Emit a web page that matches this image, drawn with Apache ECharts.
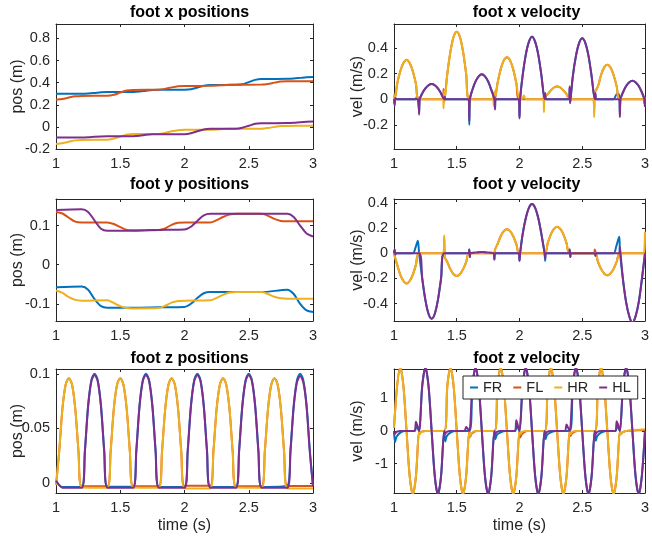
<!DOCTYPE html>
<html>
<head>
<meta charset="utf-8">
<script src="https://cdn.jsdelivr.net/npm/echarts@6/dist/echarts.min.js"></script>
<style>
html, body { margin: 0; padding: 0; background: #fff; }
#main { width: 652px; height: 538px; }
</style>
</head>
<body>
<div id="main"></div>
<script>
// legs and the time axis
var names = ['FR', 'FL', 'HR', 'HL'];
var xTicks = [1, 1.5, 2, 2.5, 3];

// y tick labels per panel
var xposTicks = [-0.2, 0, 0.2, 0.4, 0.6, 0.8];
var xvelTicks = [-0.2, 0, 0.2, 0.4];
var yposTicks = [-0.1, 0, 0.1];
var yvelTicks = [-0.4, -0.2, 0, 0.2, 0.4];
var zposTicks = [0, 0.05, 0.1];
var zvelTicks = [-1, 0, 1];

// foot x positions [t, m]
var xposFR = [[1.0,0.300],[1.2,0.300],[1.25,0.302],[1.3,0.307],[1.35,0.313],[1.4,0.315],[1.6,0.316],[1.65,0.319],[1.7,0.327],[1.75,0.334],[1.8,0.336],[2.0,0.336],[2.05,0.34],[2.1,0.355],[2.15,0.372],[2.2,0.378],[2.4,0.38],[2.45,0.385],[2.5,0.405],[2.55,0.425],[2.6,0.432],[2.8,0.434],[2.85,0.437],[2.9,0.443],[2.95,0.449],[3.0,0.451]];
var xposFL = [[1.0,0.245],[1.05,0.252],[1.1,0.265],[1.15,0.276],[1.2,0.280],[1.4,0.281],[1.45,0.29],[1.5,0.31],[1.55,0.328],[1.6,0.334],[1.8,0.336],[1.85,0.344],[1.9,0.357],[1.95,0.367],[2.0,0.370],[2.2,0.371],[2.25,0.373],[2.3,0.377],[2.35,0.38],[2.4,0.381],[2.6,0.382],[2.65,0.388],[2.7,0.40],[2.75,0.41],[2.8,0.412],[3.0,0.412]];
var xposHR = [[1.0,-0.155],[1.05,-0.148],[1.1,-0.135],[1.15,-0.122],[1.2,-0.118],[1.4,-0.117],[1.45,-0.105],[1.5,-0.088],[1.55,-0.07],[1.6,-0.064],[1.8,-0.063],[1.85,-0.055],[1.9,-0.04],[1.95,-0.03],[2.0,-0.027],[2.2,-0.026],[2.25,-0.024],[2.3,-0.02],[2.35,-0.017],[2.4,-0.016],[2.6,-0.016],[2.65,-0.01],[2.7,0.0],[2.75,0.008],[2.8,0.009],[3.0,0.01]];
var xposHL = [[1.0,-0.095],[1.2,-0.095],[1.25,-0.093],[1.3,-0.089],[1.35,-0.086],[1.4,-0.085],[1.6,-0.084],[1.65,-0.08],[1.7,-0.072],[1.75,-0.067],[1.8,-0.066],[2.0,-0.066],[2.05,-0.058],[2.1,-0.04],[2.15,-0.023],[2.2,-0.018],[2.4,-0.017],[2.45,-0.008],[2.5,0.01],[2.55,0.028],[2.6,0.032],[2.8,0.034],[2.85,0.037],[2.9,0.042],[2.95,0.046],[3.0,0.048]];

// foot x velocity [t, m/s]
var xvelFR = [[1.0,0],[1.005,-0.04],[1.01,0.01],[1.02,0],[1.17,0],[1.185,0.025],[1.19,0],[1.195,0],[1.2,-0.1],[1.205,0],[1.225,0.046],[1.25,0.085],[1.275,0.11],[1.3,0.12],[1.325,0.11],[1.35,0.085],[1.375,0.046],[1.4,0],[1.405,0.02],[1.41,0],[1.595,0],[1.6,-0.2],[1.605,0],[1.625,0.075],[1.65,0.14],[1.675,0.18],[1.7,0.196],[1.725,0.18],[1.75,0.14],[1.775,0.075],[1.8,0],[1.805,-0.07],[1.81,0],[1.995,0],[2.0,-0.14],[2.005,0],[2.025,0.186],[2.05,0.348],[2.075,0.45],[2.1,0.49],[2.125,0.45],[2.15,0.348],[2.175,0.186],[2.2,0],[2.205,0.04],[2.21,0],[2.395,0],[2.4,0.09],[2.403,-0.03],[2.407,0],[2.425,0.18],[2.45,0.34],[2.475,0.44],[2.5,0.478],[2.525,0.44],[2.55,0.34],[2.575,0.18],[2.6,0],[2.605,0.04],[2.61,0],[2.75,0],[2.775,0.04],[2.795,0.04],[2.8,-0.12],[2.805,0],[2.825,0.055],[2.85,0.104],[2.875,0.134],[2.9,0.146],[2.925,0.134],[2.95,0.104],[2.975,0.055],[2.995,0],[3.0,-0.05]];
var xvelFL = [[1.0,-0.03],[1.005,0.03],[1.01,0.02],[1.025,0.12],[1.05,0.22],[1.075,0.285],[1.1,0.31],[1.125,0.285],[1.15,0.22],[1.175,0.12],[1.2,0],[1.39,0],[1.395,0.08],[1.4,-0.02],[1.405,0.01],[1.425,0.2],[1.45,0.375],[1.475,0.49],[1.5,0.53],[1.525,0.49],[1.55,0.375],[1.575,0.2],[1.6,0],[1.79,0],[1.795,0.05],[1.8,-0.03],[1.81,0.03],[1.825,0.125],[1.85,0.235],[1.875,0.305],[1.9,0.33],[1.925,0.305],[1.95,0.235],[1.975,0.125],[2.0,0],[2.19,0],[2.195,0.04],[2.2,0.02],[2.225,0.04],[2.25,0.07],[2.275,0.092],[2.3,0.1],[2.325,0.092],[2.35,0.07],[2.375,0.04],[2.4,0],[2.59,0],[2.595,-0.1],[2.6,0.05],[2.625,0.1],[2.65,0.19],[2.675,0.25],[2.7,0.27],[2.725,0.25],[2.75,0.19],[2.775,0.1],[2.8,0],[2.99,0],[2.995,-0.03],[3.0,0.02]];
var xvelHR = [[1.0,0.04],[1.005,-0.04],[1.01,0.02],[1.025,0.12],[1.05,0.22],[1.075,0.285],[1.1,0.31],[1.125,0.285],[1.15,0.22],[1.175,0.12],[1.2,0],[1.39,0],[1.395,-0.07],[1.4,0.07],[1.405,0.01],[1.425,0.2],[1.45,0.375],[1.475,0.49],[1.5,0.53],[1.525,0.49],[1.55,0.375],[1.575,0.2],[1.6,0],[1.79,0],[1.795,-0.05],[1.8,0.06],[1.81,0.03],[1.825,0.125],[1.85,0.235],[1.875,0.305],[1.9,0.33],[1.925,0.305],[1.95,0.235],[1.975,0.125],[2.0,0],[2.02,0],[2.035,0.03],[2.05,0],[2.19,0],[2.195,-0.1],[2.2,0.02],[2.225,0.04],[2.25,0.07],[2.275,0.092],[2.3,0.1],[2.325,0.092],[2.35,0.07],[2.375,0.04],[2.4,0],[2.59,0],[2.595,-0.14],[2.6,0.05],[2.625,0.1],[2.65,0.19],[2.675,0.25],[2.7,0.27],[2.725,0.25],[2.75,0.19],[2.775,0.1],[2.8,0],[3.0,0]];
var xvelHL = [[1.0,0],[1.005,-0.05],[1.01,0.01],[1.02,0],[1.195,0],[1.2,-0.12],[1.205,0],[1.225,0.046],[1.25,0.085],[1.275,0.11],[1.3,0.12],[1.325,0.11],[1.35,0.085],[1.375,0.046],[1.4,0],[1.405,0.02],[1.41,0],[1.595,0],[1.6,-0.17],[1.605,0],[1.625,0.075],[1.65,0.14],[1.675,0.18],[1.7,0.196],[1.725,0.18],[1.75,0.14],[1.775,0.075],[1.8,0],[1.805,-0.08],[1.81,0],[1.995,0],[2.0,-0.15],[2.005,0],[2.025,0.186],[2.05,0.348],[2.075,0.45],[2.1,0.49],[2.125,0.45],[2.15,0.348],[2.175,0.186],[2.2,0],[2.205,0.05],[2.21,0],[2.395,0],[2.4,0.1],[2.403,-0.03],[2.407,0],[2.425,0.18],[2.45,0.34],[2.475,0.44],[2.5,0.478],[2.525,0.44],[2.55,0.34],[2.575,0.18],[2.6,0],[2.605,0.05],[2.61,0],[2.795,0],[2.8,-0.14],[2.805,0],[2.825,0.055],[2.85,0.104],[2.875,0.134],[2.9,0.146],[2.925,0.134],[2.95,0.104],[2.975,0.055],[2.995,0],[3.0,-0.06]];

// foot y positions [t, m]
var yposFR = [[1.0,-0.058],[1.2,-0.056],[1.25,-0.064],[1.3,-0.088],[1.35,-0.106],[1.4,-0.110],[1.6,-0.110],[1.8,-0.109],[2.0,-0.108],[2.05,-0.1],[2.1,-0.085],[2.15,-0.073],[2.2,-0.07],[2.6,-0.07],[2.8,-0.064],[2.85,-0.075],[2.9,-0.1],[2.95,-0.117],[3.0,-0.121]];
var yposFL = [[1.0,0.135],[1.05,0.131],[1.1,0.12],[1.15,0.11],[1.2,0.108],[1.4,0.108],[1.45,0.104],[1.5,0.096],[1.55,0.089],[1.6,0.088],[1.8,0.089],[1.85,0.093],[1.9,0.102],[1.95,0.107],[2.0,0.108],[2.2,0.108],[2.25,0.114],[2.3,0.122],[2.35,0.128],[2.4,0.13],[2.6,0.13],[2.65,0.125],[2.7,0.117],[2.75,0.112],[2.8,0.111],[3.0,0.111]];
var yposHR = [[1.0,-0.066],[1.05,-0.072],[1.1,-0.083],[1.15,-0.09],[1.2,-0.092],[1.4,-0.091],[1.45,-0.098],[1.5,-0.106],[1.55,-0.111],[1.6,-0.112],[1.8,-0.111],[1.85,-0.105],[1.9,-0.097],[1.95,-0.093],[2.0,-0.092],[2.2,-0.091],[2.25,-0.085],[2.3,-0.077],[2.35,-0.071],[2.4,-0.07],[2.6,-0.07],[2.65,-0.075],[2.7,-0.082],[2.75,-0.086],[2.8,-0.087],[3.0,-0.087]];
var yposHL = [[1.0,0.14],[1.2,0.142],[1.25,0.135],[1.3,0.113],[1.35,0.092],[1.4,0.087],[1.6,0.087],[1.7,0.088],[1.8,0.089],[2.0,0.09],[2.05,0.097],[2.1,0.112],[2.15,0.126],[2.2,0.13],[2.8,0.13],[2.85,0.122],[2.9,0.1],[2.95,0.08],[3.0,0.072]];

// foot y velocity [t, m/s]
var yvelFR = [[1.0,0],[1.005,0.03],[1.01,0],[1.15,0],[1.17,0.04],[1.19,0.1],[1.2,0],[1.225,-0.2],[1.25,-0.37],[1.275,-0.48],[1.3,-0.52],[1.325,-0.48],[1.35,-0.37],[1.375,-0.2],[1.4,0],[1.595,0],[1.6,0.03],[1.605,-0.03],[1.61,0],[1.65,0.005],[1.7,0.01],[1.75,0.005],[1.795,0],[1.8,-0.05],[1.805,0],[1.995,0],[2.0,-0.06],[2.005,0],[2.025,0.15],[2.05,0.277],[2.075,0.36],[2.1,0.39],[2.125,0.36],[2.15,0.277],[2.175,0.15],[2.2,0],[2.205,-0.06],[2.21,0],[2.395,0],[2.4,0.03],[2.405,-0.03],[2.41,0],[2.6,0],[2.605,-0.02],[2.61,0],[2.75,0],[2.77,0.05],[2.795,0.13],[2.8,0.02],[2.825,-0.21],[2.85,-0.39],[2.875,-0.5],[2.9,-0.55],[2.925,-0.5],[2.95,-0.39],[2.975,-0.21],[3.0,0]];
var yvelFL = [[1.0,0.01],[1.005,-0.02],[1.025,-0.09],[1.05,-0.17],[1.075,-0.22],[1.1,-0.24],[1.125,-0.22],[1.15,-0.17],[1.175,-0.09],[1.2,0],[1.395,0],[1.4,0.12],[1.405,-0.03],[1.425,-0.07],[1.45,-0.128],[1.475,-0.166],[1.5,-0.18],[1.525,-0.166],[1.55,-0.128],[1.575,-0.07],[1.6,0],[1.8,0],[1.805,0.03],[1.825,0.072],[1.85,0.135],[1.875,0.175],[1.9,0.19],[1.925,0.175],[1.95,0.135],[1.975,0.072],[2.0,0],[2.2,0],[2.225,0.08],[2.25,0.15],[2.275,0.193],[2.3,0.21],[2.325,0.193],[2.35,0.15],[2.375,0.08],[2.4,0],[2.595,0],[2.6,0.03],[2.625,-0.066],[2.65,-0.124],[2.675,-0.16],[2.7,-0.175],[2.725,-0.16],[2.75,-0.124],[2.775,-0.066],[2.8,0],[2.995,0],[3.0,0.15]];
var yvelHR = [[1.0,0.01],[1.005,-0.02],[1.025,-0.09],[1.05,-0.17],[1.075,-0.22],[1.1,-0.24],[1.125,-0.22],[1.15,-0.17],[1.175,-0.09],[1.2,0],[1.395,0],[1.4,0.14],[1.405,-0.03],[1.425,-0.07],[1.45,-0.128],[1.475,-0.166],[1.5,-0.18],[1.525,-0.166],[1.55,-0.128],[1.575,-0.07],[1.6,0],[1.8,0],[1.805,0.03],[1.825,0.072],[1.85,0.135],[1.875,0.175],[1.9,0.19],[1.925,0.175],[1.95,0.135],[1.975,0.072],[2.0,0],[2.2,0],[2.225,0.08],[2.25,0.15],[2.275,0.193],[2.3,0.21],[2.325,0.193],[2.35,0.15],[2.375,0.08],[2.4,0],[2.6,0],[2.625,-0.066],[2.65,-0.124],[2.675,-0.16],[2.7,-0.175],[2.725,-0.16],[2.75,-0.124],[2.775,-0.066],[2.8,0],[2.995,0],[3.0,0.17]];
var yvelHL = [[1.0,0],[1.005,0.03],[1.01,-0.01],[1.02,0],[1.2,0],[1.225,-0.2],[1.25,-0.37],[1.275,-0.48],[1.3,-0.52],[1.325,-0.48],[1.35,-0.37],[1.375,-0.2],[1.4,0],[1.595,0],[1.6,0.03],[1.605,-0.03],[1.61,0],[1.65,0.005],[1.7,0.01],[1.75,0.005],[1.795,0],[1.8,-0.05],[1.805,0],[1.995,0],[2.0,-0.06],[2.005,0],[2.025,0.15],[2.05,0.277],[2.075,0.36],[2.1,0.39],[2.125,0.36],[2.15,0.277],[2.175,0.15],[2.2,0],[2.205,-0.04],[2.21,0],[2.395,0],[2.4,0.03],[2.405,-0.03],[2.41,0],[2.6,0],[2.605,-0.02],[2.61,0],[2.795,0],[2.8,0.05],[2.805,0],[2.825,-0.21],[2.85,-0.39],[2.875,-0.5],[2.9,-0.55],[2.925,-0.5],[2.95,-0.39],[2.975,-0.21],[3.0,0]];

// foot z positions [t, m]
var zposFR = [[1.0,0.002],[1.025,-0.002],[1.05,-0.0037],[1.2,-0.0035],[1.225,0.03],[1.25,0.071],[1.275,0.094],[1.3,0.1],[1.325,0.094],[1.35,0.071],[1.375,0.03],[1.4,-0.0035],[1.6,-0.0035],[1.625,0.03],[1.65,0.071],[1.675,0.094],[1.7,0.1],[1.725,0.094],[1.75,0.071],[1.775,0.03],[1.8,-0.0037],[2.0,-0.0035],[2.025,0.03],[2.05,0.071],[2.075,0.094],[2.1,0.1],[2.125,0.094],[2.15,0.071],[2.175,0.03],[2.2,-0.0037],[2.4,-0.0035],[2.425,0.03],[2.45,0.071],[2.475,0.094],[2.5,0.1],[2.525,0.094],[2.55,0.071],[2.575,0.03],[2.6,-0.0037],[2.8,-0.0025],[2.825,0.031],[2.85,0.071],[2.875,0.094],[2.9,0.1],[2.925,0.094],[2.95,0.071],[2.975,0.03],[3.0,-0.003]];
var zposFL = [[1.0,-0.002],[1.025,0.029],[1.05,0.068],[1.075,0.09],[1.1,0.096],[1.125,0.09],[1.15,0.068],[1.175,0.029],[1.2,-0.003],[1.4,-0.003],[1.425,0.029],[1.45,0.068],[1.475,0.09],[1.5,0.096],[1.525,0.09],[1.55,0.068],[1.575,0.029],[1.6,-0.003],[1.8,-0.003],[1.825,0.029],[1.85,0.068],[1.875,0.09],[1.9,0.096],[1.925,0.09],[1.95,0.068],[1.975,0.029],[2.0,-0.0026],[2.2,-0.0026],[2.225,0.029],[2.25,0.068],[2.275,0.09],[2.3,0.096],[2.325,0.09],[2.35,0.068],[2.375,0.029],[2.4,-0.003],[2.6,-0.003],[2.625,0.029],[2.65,0.068],[2.675,0.09],[2.7,0.096],[2.725,0.09],[2.75,0.068],[2.775,0.029],[2.8,-0.0028],[3.0,-0.0028]];
var zposHR = [[1.0,-0.002],[1.025,0.029],[1.05,0.068],[1.075,0.09],[1.1,0.096],[1.125,0.09],[1.15,0.068],[1.175,0.029],[1.2,-0.004],[1.4,-0.0045],[1.425,0.028],[1.45,0.068],[1.475,0.09],[1.5,0.096],[1.525,0.09],[1.55,0.068],[1.575,0.028],[1.6,-0.004],[1.8,-0.0045],[1.825,0.028],[1.85,0.068],[1.875,0.09],[1.9,0.096],[1.925,0.09],[1.95,0.068],[1.975,0.028],[2.0,-0.005],[2.2,-0.005],[2.225,0.028],[2.25,0.068],[2.275,0.09],[2.3,0.096],[2.325,0.09],[2.35,0.068],[2.375,0.028],[2.4,-0.004],[2.6,-0.0045],[2.625,0.028],[2.65,0.068],[2.675,0.09],[2.7,0.096],[2.725,0.09],[2.75,0.068],[2.775,0.028],[2.8,-0.005],[3.0,-0.005]];
var zposHL = [[1.0,0.002],[1.025,-0.002],[1.05,-0.0043],[1.2,-0.0045],[1.225,0.029],[1.25,0.07],[1.275,0.093],[1.3,0.099],[1.325,0.093],[1.35,0.07],[1.375,0.029],[1.4,-0.0043],[1.6,-0.0045],[1.625,0.029],[1.65,0.07],[1.675,0.093],[1.7,0.099],[1.725,0.093],[1.75,0.07],[1.775,0.029],[1.8,-0.0043],[2.0,-0.0045],[2.025,0.029],[2.05,0.07],[2.075,0.093],[2.1,0.099],[2.125,0.093],[2.15,0.07],[2.175,0.029],[2.2,-0.0043],[2.4,-0.0045],[2.425,0.029],[2.45,0.07],[2.475,0.093],[2.5,0.099],[2.525,0.093],[2.55,0.07],[2.575,0.029],[2.6,-0.0043],[2.8,-0.0045],[2.825,0.029],[2.85,0.07],[2.875,0.092],[2.9,0.098],[2.925,0.092],[2.95,0.07],[2.975,0.029],[3.0,-0.003]];

// foot z velocity [t, m/s]
var zvelFR = [[1.0,0],[1.008,-0.34],[1.02,-0.18],[1.05,-0.05],[1.09,0],[1.165,0],[1.178,0.15],[1.188,0.1],[1.2,0],[1.225,1.38],[1.25,1.95],[1.275,1.38],[1.3,0],[1.325,-1.38],[1.35,-1.95],[1.375,-1.38],[1.4,0],[1.408,-0.32],[1.42,-0.16],[1.45,-0.05],[1.49,0],[1.6,0],[1.625,1.38],[1.65,1.95],[1.675,1.38],[1.7,0],[1.725,-1.38],[1.75,-1.95],[1.775,-1.38],[1.8,0],[1.808,-0.25],[1.82,-0.12],[1.85,-0.04],[1.89,0],[1.965,0],[1.978,0.15],[1.988,0.1],[2.0,0],[2.025,1.38],[2.05,1.95],[2.075,1.38],[2.1,0],[2.125,-1.38],[2.15,-1.95],[2.175,-1.38],[2.2,0],[2.208,-0.25],[2.22,-0.12],[2.25,-0.04],[2.29,0],[2.4,0],[2.425,1.38],[2.45,1.95],[2.475,1.38],[2.5,0],[2.525,-1.38],[2.55,-1.95],[2.575,-1.38],[2.6,0],[2.608,-0.3],[2.62,-0.15],[2.65,-0.05],[2.69,0],[2.765,0],[2.778,0.15],[2.788,0.1],[2.8,0],[2.825,1.38],[2.85,1.95],[2.875,1.38],[2.9,0],[2.925,-1.38],[2.95,-1.95],[2.975,-1.38],[3.0,0]];
var zvelFL = [[1.0,0.1],[1.025,1.38],[1.05,1.95],[1.075,1.38],[1.1,0],[1.125,-1.38],[1.15,-1.95],[1.175,-1.38],[1.2,0],[1.205,-0.05],[1.22,-0.02],[1.25,0],[1.4,0],[1.425,1.38],[1.45,1.95],[1.475,1.38],[1.5,0],[1.525,-1.38],[1.55,-1.95],[1.575,-1.38],[1.6,0],[1.606,-0.18],[1.62,-0.08],[1.66,0],[1.8,0],[1.825,1.38],[1.85,1.95],[1.875,1.38],[1.9,0],[1.925,-1.38],[1.95,-1.95],[1.975,-1.38],[2.0,0],[2.006,-0.2],[2.02,-0.09],[2.06,0],[2.2,0],[2.225,1.38],[2.25,1.95],[2.275,1.38],[2.3,0],[2.325,-1.38],[2.35,-1.95],[2.375,-1.38],[2.4,0],[2.406,-0.15],[2.42,-0.07],[2.46,0],[2.6,0],[2.625,1.38],[2.65,1.95],[2.675,1.38],[2.7,0],[2.725,-1.38],[2.75,-1.95],[2.775,-1.38],[2.8,0],[2.806,-0.1],[2.82,-0.04],[2.85,0],[3.0,0.03]];
var zvelHR = [[1.0,0.1],[1.025,1.38],[1.05,1.95],[1.075,1.38],[1.1,0],[1.125,-1.38],[1.15,-1.95],[1.175,-1.38],[1.2,0],[1.205,-0.1],[1.22,-0.03],[1.25,0],[1.4,0],[1.425,1.38],[1.45,1.95],[1.475,1.38],[1.5,0],[1.525,-1.38],[1.55,-1.95],[1.575,-1.38],[1.6,0],[1.605,-0.15],[1.62,-0.05],[1.65,0],[1.8,0],[1.825,1.38],[1.85,1.95],[1.875,1.38],[1.9,0],[1.925,-1.38],[1.95,-1.95],[1.975,-1.38],[2.0,0],[2.005,-0.1],[2.02,-0.03],[2.05,0],[2.2,0],[2.225,1.38],[2.25,1.95],[2.275,1.38],[2.3,0],[2.325,-1.38],[2.35,-1.95],[2.375,-1.38],[2.4,0],[2.405,-0.1],[2.42,-0.03],[2.45,0],[2.6,0],[2.625,1.38],[2.65,1.95],[2.675,1.38],[2.7,0],[2.725,-1.38],[2.75,-1.95],[2.775,-1.38],[2.8,0],[2.805,-0.12],[2.82,-0.04],[2.85,0],[3.0,0.05]];
var zvelHL = [[1.0,-0.03],[1.005,-0.1],[1.02,-0.03],[1.05,0],[1.16,0],[1.175,0.28],[1.185,0.18],[1.2,0],[1.225,1.38],[1.25,1.95],[1.275,1.38],[1.3,0],[1.325,-1.38],[1.35,-1.95],[1.375,-1.38],[1.4,0],[1.405,-0.1],[1.42,-0.03],[1.45,0],[1.56,0],[1.575,0.12],[1.585,0.08],[1.6,0],[1.625,1.38],[1.65,1.95],[1.675,1.38],[1.7,0],[1.725,-1.38],[1.75,-1.95],[1.775,-1.38],[1.8,0],[1.805,-0.1],[1.82,-0.03],[1.85,0],[1.96,0],[1.975,0.33],[1.985,0.2],[2.0,0],[2.025,1.38],[2.05,1.95],[2.075,1.38],[2.1,0],[2.125,-1.38],[2.15,-1.95],[2.175,-1.38],[2.2,0],[2.205,-0.1],[2.22,-0.03],[2.25,0],[2.36,0],[2.375,0.2],[2.385,0.12],[2.4,0],[2.425,1.38],[2.45,1.95],[2.475,1.38],[2.5,0],[2.525,-1.38],[2.55,-1.95],[2.575,-1.38],[2.6,0],[2.605,-0.1],[2.62,-0.03],[2.65,0],[2.76,0],[2.775,0.3],[2.785,0.2],[2.8,0],[2.825,1.38],[2.85,1.95],[2.875,1.38],[2.9,0],[2.925,-1.38],[2.95,-1.95],[2.975,-1.38],[3.0,0]];

var colors = ['#0072BD', '#D95319', '#EDB120', '#7E2F8E'];
var ink = '#262626';
var font = 'Liberation Sans, Arial, sans-serif';

var panels = [
    {title: 'foot x positions', ylabel: 'pos (m)', ylim: [-0.2, 0.93], ticks: xposTicks, lines: [xposFR, xposFL, xposHR, xposHL], box: [56, 24, 257, 125], titleTop: 0},
    {title: 'foot x velocity', ylabel: 'vel (m/s)', ylim: [-0.39, 0.59], ticks: xvelTicks, lines: [xvelFR, xvelFL, xvelHR, xvelHL], box: [394, 24, 255, 125], titleTop: 0},
    {title: 'foot y positions', ylabel: 'pos (m)', ylim: [-0.144, 0.168], ticks: yposTicks, lines: [yposFR, yposFL, yposHR, yposHL], box: [56, 199, 257, 122], titleTop: 172},
    {title: 'foot y velocity', ylabel: 'vel (m/s)', ylim: [-0.537, 0.43], ticks: yvelTicks, lines: [yvelFR, yvelFL, yvelHR, yvelHL], box: [394, 199, 255, 122], titleTop: 172},
    {title: 'foot z positions', ylabel: 'pos (m)', ylim: [-0.0092, 0.1044], ticks: zposTicks, lines: [zposFR, zposFL, zposHR, zposHL], box: [56, 369, 257, 124], titleTop: 346, xlabel: 'time (s)'},
    {title: 'foot z velocity', ylabel: 'vel (m/s)', ylim: [-1.9, 1.9], ticks: zvelTicks, lines: [zvelFR, zvelFL, zvelHR, zvelHL], box: [394, 369, 255, 124], titleTop: 346, xlabel: 'time (s)'}
];

var grids = [], xAxes = [], yAxes = [], titles = [], series = [];
var tickStyle = {inside: true, length: 3, lineStyle: {color: ink, width: 1}};
var lineStyle = {onZero: false, lineStyle: {color: ink, width: 1}};
var labelStyle = {color: ink, fontSize: 14.5, fontFamily: font};

panels.forEach(function (p, i) {
    var b = p.box;
    grids.push({left: b[0], top: b[1], width: b[2], height: b[3], containLabel: false});
    titles.push({
        text: p.title, left: b[0] + b[2] / 2, top: p.titleTop, textAlign: 'center',
        textStyle: {fontSize: 16, fontWeight: 'bold', color: '#000', fontFamily: font}
    });
    xAxes.push({
        gridIndex: i, type: 'value', min: 1, max: 3, interval: 0.5, position: 'bottom',
        axisLine: lineStyle, axisTick: tickStyle, splitLine: {show: false},
        axisLabel: Object.assign({margin: 7, customValues: xTicks}, labelStyle),
        name: p.xlabel || '', nameLocation: 'middle', nameGap: 25, nameMoveOverlap: false,
        nameTextStyle: {color: ink, fontSize: 16, fontFamily: font}
    });
    xAxes.push({
        gridIndex: i, type: 'value', min: 1, max: 3, interval: 0.5, position: 'top',
        axisLine: lineStyle, axisTick: tickStyle, splitLine: {show: false}, axisLabel: {show: false}
    });
    yAxes.push({
        gridIndex: i, type: 'value', min: p.ylim[0], max: p.ylim[1], position: 'left',
        axisLine: lineStyle, splitLine: {show: false},
        axisTick: Object.assign({customValues: p.ticks}, tickStyle),
        axisLabel: Object.assign({margin: 6, customValues: p.ticks}, labelStyle),
        name: p.ylabel, nameLocation: 'middle', nameGap: i % 2 === 0 ? 30 : 28, nameMoveOverlap: false,
        nameTextStyle: {color: ink, fontSize: 16, fontFamily: font}
    });
    yAxes.push({
        gridIndex: i, type: 'value', min: p.ylim[0], max: p.ylim[1], position: 'right',
        axisLine: lineStyle, splitLine: {show: false},
        axisTick: Object.assign({customValues: p.ticks}, tickStyle),
        axisLabel: {show: false, customValues: p.ticks}
    });
    p.lines.forEach(function (d, k) {
        series.push({
            type: 'line', name: names[k], xAxisIndex: 2 * i, yAxisIndex: 2 * i,
            data: d, showSymbol: false, symbol: 'none', smooth: 0.3, clip: true, silent: true,
            lineStyle: {color: colors[k], width: 2}, itemStyle: {color: colors[k]}
        });
    });
});

var myChart = echarts.init(document.getElementById('main'));
myChart.setOption({
    animation: false,
    backgroundColor: '#fff',
    title: titles,
    grid: grids,
    xAxis: xAxes,
    yAxis: yAxes,
    legend: {
        data: names, left: 463, top: 376, padding: [4, 7], itemGap: 11,
        itemWidth: 8, itemHeight: 2, icon: 'rect',
        borderColor: ink, borderWidth: 1, backgroundColor: '#fff',
        textStyle: {fontSize: 14.5, color: ink, fontFamily: font}
    },
    series: series
});
</script>
</body>
</html>
